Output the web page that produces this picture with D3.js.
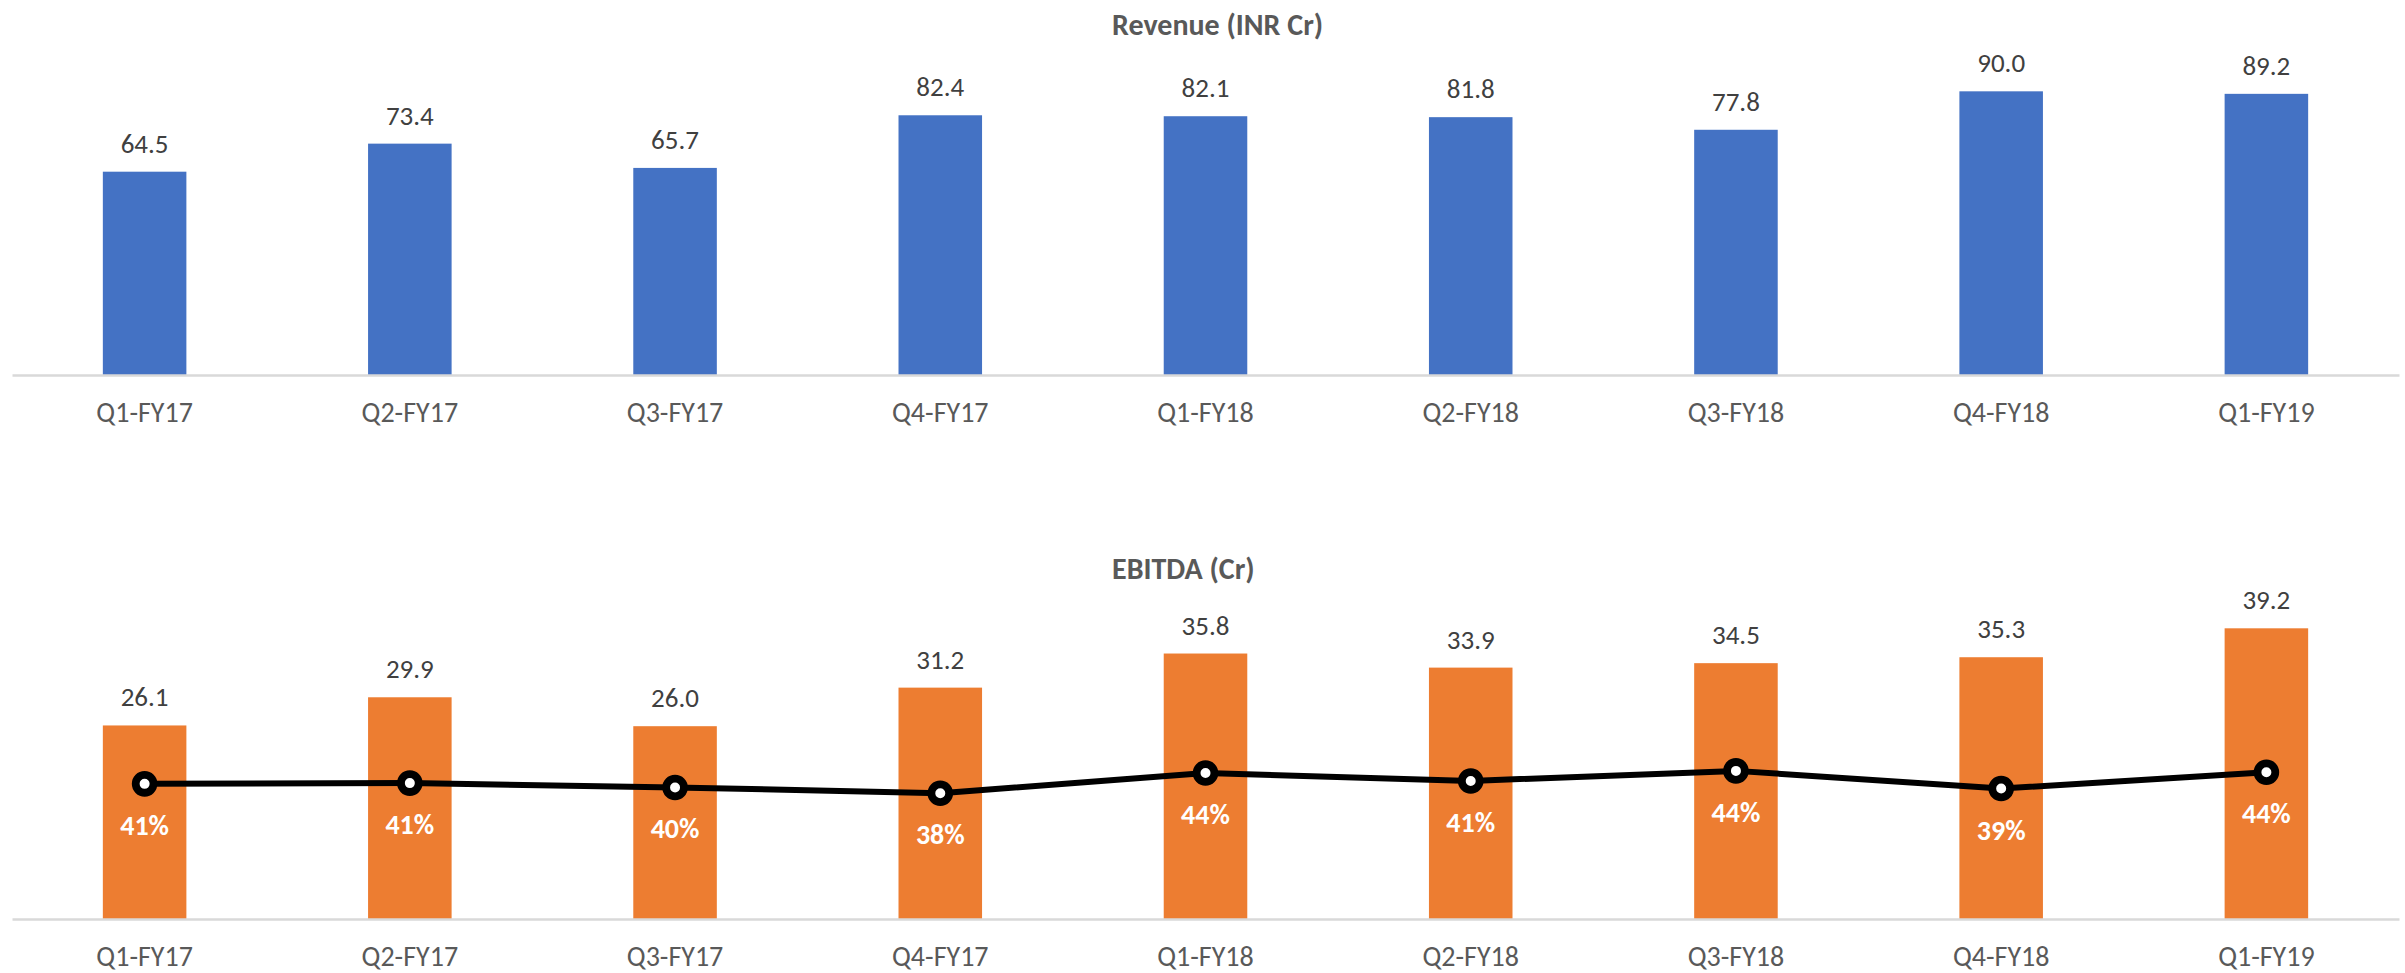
<!DOCTYPE html>
<html><head><meta charset="utf-8">
<script src="https://cdn.jsdelivr.net/npm/d3@7/dist/d3.min.js"></script>
<style>
body{margin:0;background:#fff;}
svg text{font-family:Carlito, Calibri, Lato, sans-serif;}
</style>
</head><body>
<svg id="chart" width="2405" height="973"></svg>
<script>
// ---- data ----
const categories = ["Q1-FY17","Q2-FY17","Q3-FY17","Q4-FY17","Q1-FY18","Q2-FY18","Q3-FY18","Q4-FY18","Q1-FY19"];
const revenue = [64.5, 73.4, 65.7, 82.4, 82.1, 81.8, 77.8, 90.0, 89.2];
const ebitda  = [26.1, 29.9, 26.0, 31.2, 35.8, 33.9, 34.5, 35.3, 39.2];
const margin  = [40.6, 40.8, 39.6, 38.0, 43.6, 41.4, 44.2, 39.3, 43.8];
const revenueDomain = [0, 100];
const ebitdaDomain = [0, 45];
const marginDomain = [30, 50];
const titles = ["Revenue (INR Cr)", "EBITDA (Cr)"];

// ---- layout ----
const svg = d3.select("#chart");
const x = d3.scaleBand().domain(categories).range([12, 2399]).paddingInner(0.685).paddingOuter(0.3425);

const panels = [
  {title: titles[0], values: revenue, domain: revenueDomain, base: 375, top: 59.8, color: "#4472C4", titleY: 35},
  {title: titles[1], values: ebitda, domain: ebitdaDomain, base: 919, top: 585.3, color: "#ED7D31", titleY: 579}
];

const fmt1 = d3.format(".1f");

panels.forEach((p, pi) => {
  const y = d3.scaleLinear().domain(p.domain).range([p.base, p.top]);
  const g = svg.append("g");

  g.append("text")
    .attr("x", 1112).attr("y", p.titleY)
    .attr("font-size", 30).attr("font-weight", "bold")
    .attr("fill", "#595959")
    .text(p.title);

  g.selectAll("rect.bar").data(p.values).join("rect")
    .attr("class", "bar")
    .attr("x", (d, i) => x(categories[i]))
    .attr("width", x.bandwidth())
    .attr("y", d => y(d))
    .attr("height", d => y(0) - y(d))
    .attr("fill", p.color);

  // axis
  const ax = g.append("g").attr("transform", `translate(0,${p.base})`)
    .call(d3.axisBottom(x).tickSize(0).tickSizeOuter(0));
  ax.select(".domain").attr("stroke", "#D9D9D9").attr("stroke-width", 2.5);
  ax.selectAll(".tick text")
    .attr("y", 47).attr("dy", 0)
    .attr("font-size", 28).attr("fill", "#595959")
    .style("font-family", "Carlito, Calibri, Lato, sans-serif");

  // value labels
  g.selectAll("text.val").data(p.values).join("text")
    .attr("class", "val")
    .attr("x", (d, i) => x(categories[i]) + x.bandwidth() / 2)
    .attr("y", d => y(d) - 19)
    .attr("text-anchor", "middle")
    .attr("font-size", 27).attr("fill", "#404040")
    .text(d => fmt1(d));

  if (pi === 1) {
    const ym = d3.scaleLinear().domain(marginDomain).range([822, 750]);
    const cx = (d, i) => x(categories[i]) + x.bandwidth() / 2;
    const line = d3.line().x((d, i) => cx(d, i)).y(d => ym(d));
    g.append("path").datum(margin)
      .attr("d", line).attr("fill", "none")
      .attr("stroke", "#000").attr("stroke-width", 6)
      .attr("stroke-linejoin", "round");
    g.selectAll("circle.mk").data(margin).join("circle")
      .attr("class", "mk")
      .attr("cx", cx).attr("cy", d => ym(d))
      .attr("r", 8.9).attr("fill", "#fff")
      .attr("stroke", "#000").attr("stroke-width", 7.8);
    g.selectAll("text.pct").data(margin).join("text")
      .attr("class", "pct")
      .attr("x", cx).attr("y", d => ym(d) + 51)
      .attr("text-anchor", "middle")
      .attr("font-size", 28).attr("font-weight", "bold").attr("fill", "#fff")
      .text(d => Math.round(d) + "%");
  }
});
</script>
</body></html>
